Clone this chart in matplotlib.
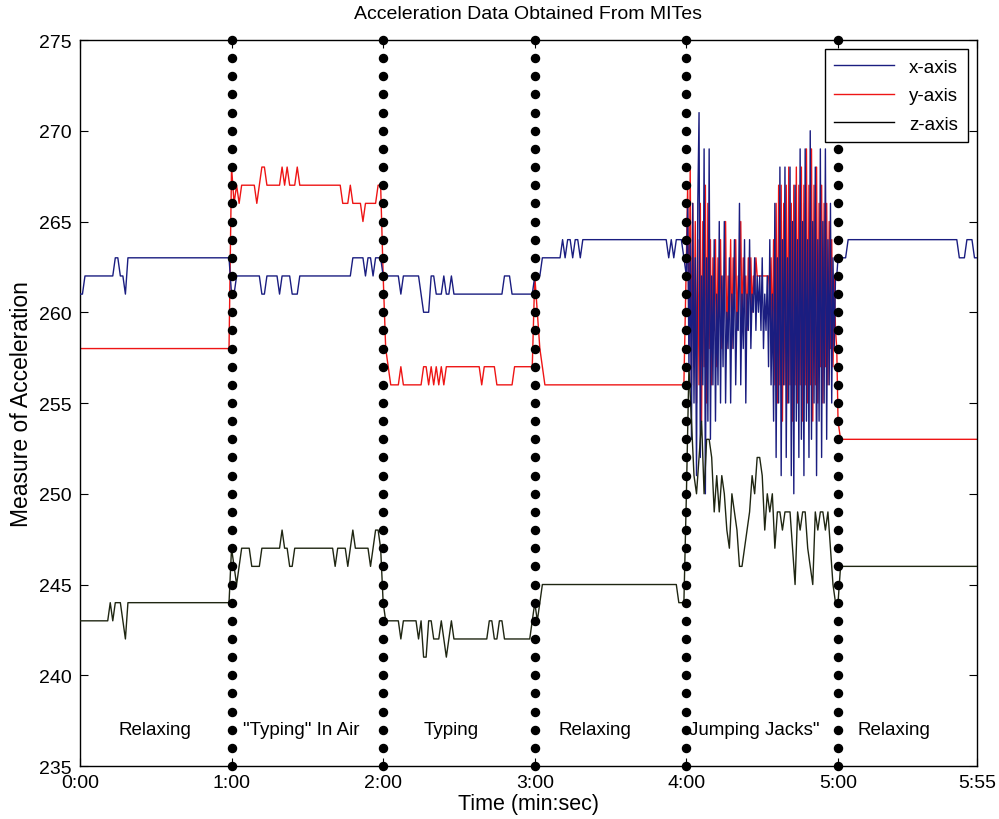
import numpy as np
import matplotlib
matplotlib.use("Agg")
import matplotlib.pyplot as plt

# MITes acceleration, one sample per second in the quiet stretches (0:00 .. 5:55)
# quiet stretches are stored as (level, run length in samples)

# x-axis, 0:00-3:59
x_levels = [261, 262, 263, 262, 261, 263,
            261, 262, 261, 262, 261, 262, 261, 262, 263, 262, 263, 262, 263,
            262, 261, 262, 261, 260, 262, 261, 262, 261, 262, 261, 262, 261,
            262, 263, 264, 263, 264, 263, 264, 263, 264, 263, 264, 263, 264, 263]
x_runs = [2, 12, 2, 2, 1, 41,
          2, 10, 2, 5, 1, 4, 3, 21, 5, 1, 2, 1, 3,
          7, 1, 7, 1, 3, 2, 3, 1, 2, 1, 20, 3, 9,
          3, 8, 1, 1, 2, 1, 2, 1, 34, 1, 1, 1, 3, 1]
# x-axis during jumping jacks, 4:00-4:59 (two samples a second)
x_jacks = [262, 266, 257, 264, 253, 266, 255, 263, 251, 266,
           271, 252, 262, 256, 269, 250, 263, 254, 269, 253,
           262, 256, 264, 254, 261, 256, 265, 255, 262, 257,
           265, 255, 260, 258, 263, 255, 261, 258, 264, 256,
           260, 259, 266, 256, 261, 258, 264, 255, 261, 259,
           264, 258, 261, 260, 263, 259, 262, 260, 262, 259,
           263, 258, 261, 259, 262, 257, 264, 256, 261, 254,
           266, 252, 263, 255, 268, 251, 264, 256, 268, 252,
           263, 255, 268, 251, 265, 250, 267, 254, 264, 252,
           269, 253, 265, 251, 269, 254, 264, 252, 270, 253,
           265, 255, 268, 251, 264, 254, 269, 252, 265, 255,
           269, 253, 264, 256, 266, 255, 263, 258, 262, 262]
# x-axis, 5:00-5:55
x_tail_levels = [263, 264, 263, 264, 263]
x_tail_runs = [4, 44, 3, 3, 2]

y_levels = [258,
            268, 266, 267, 266, 267, 266, 267, 268, 267, 268, 267, 268, 267, 268,
            267, 266, 267, 266, 265, 266, 267,
            262, 258, 257, 256, 257, 256, 257, 256, 257, 256, 257, 256, 257, 256,
            257, 256, 257, 256, 257,
            262, 260, 258, 257, 256]
y_runs = [60,
          1, 1, 1, 1, 6, 1, 1, 2, 6, 1, 1, 1, 3, 1,
          17, 3, 1, 4, 1, 5, 2,
          1, 1, 1, 4, 1, 8, 2, 1, 1, 1, 1, 1, 1, 1,
          14, 1, 5, 7, 8,
          1, 1, 1, 1, 56]
y_jacks = [263, 267, 258, 268, 256, 266, 257, 265, 255, 264,
           256, 266, 254, 265, 257, 267, 255, 266, 258, 264,
           256, 263, 259, 264, 257, 263, 260, 264, 258, 262,
           261, 265, 258, 262, 260, 264, 258, 263, 261, 264,
           259, 262, 262, 265, 259, 263, 261, 262, 259, 263,
           261, 263, 260, 262, 261, 263, 262, 262, 262, 262,
           262, 262, 262, 262, 262, 262, 261, 263, 258, 264,
           256, 266, 255, 267, 256, 267, 254, 266, 256, 267,
           255, 268, 256, 266, 254, 267, 256, 268, 255, 267,
           256, 268, 254, 267, 256, 269, 255, 267, 256, 269,
           254, 267, 256, 268, 255, 266, 257, 267, 255, 266,
           257, 266, 256, 265, 258, 264, 257, 262, 259, 258]
y_tail_levels = [254, 253]
y_tail_runs = [1, 55]

z_levels = [243, 244, 243, 244, 243, 242, 244,
            247, 246, 245, 246, 247, 246, 247, 248, 247, 246, 247, 246, 247,
            246, 247, 248, 247, 246, 247, 248, 247,
            244, 243, 242, 243, 242, 243, 241, 243, 242, 243, 242, 241, 242,
            243, 242, 243, 242, 243, 242, 243,
            244, 243, 244, 245, 244]
z_runs = [12, 1, 1, 3, 1, 1, 41,
          1, 1, 1, 1, 4, 4, 8, 1, 2, 2, 16, 1, 4,
          1, 1, 1, 6, 1, 1, 2, 1,
          1, 6, 1, 6, 1, 1, 2, 2, 3, 1, 1, 1, 1,
          1, 14, 2, 2, 2, 11, 1,
          1, 1, 1, 54, 3]
# z-axis during jumping jacks, one sample a second
z_jacks = [250, 257, 254, 251, 250, 252, 254, 250, 253, 253,
           252, 249, 251, 249, 251, 250, 248, 247, 250, 249,
           248, 246, 246, 247, 248, 249, 251, 250, 252, 252,
           251, 248, 250, 249, 250, 247, 249, 249, 248, 249,
           249, 249, 247, 245, 249, 248, 249, 249, 247, 246,
           245, 249, 248, 249, 249, 248, 249, 247, 245, 244]
z_tail_levels = [244, 246]
z_tail_runs = [1, 55]

activities = ['Relaxing', '"Typing" In Air', 'Typing', 'Relaxing',
              'Jumping Jacks"', 'Relaxing']
boundaries = [60, 120, 180, 240, 300]          # seconds
tick_secs = [0, 60, 120, 180, 240, 300, 355]
tick_labels = ['0:00', '1:00', '2:00', '3:00', '4:00', '5:00', '5:55']


def build(levels, runs, jacks, tail_levels, tail_runs):
    quiet = np.repeat(levels, runs)
    tail = np.repeat(tail_levels, tail_runs)
    t_quiet = np.arange(len(quiet))
    t_jacks = len(quiet) + np.arange(len(jacks)) * (60 / len(jacks))
    t_tail = len(quiet) + 60 + np.arange(len(tail))
    t = np.concatenate([t_quiet, t_jacks, t_tail])
    return t, np.concatenate([quiet, jacks, tail])


tx, x_acc = build(x_levels, x_runs, x_jacks, x_tail_levels, x_tail_runs)
ty, y_acc = build(y_levels, y_runs, y_jacks, y_tail_levels, y_tail_runs)
tz, z_acc = build(z_levels, z_runs, z_jacks, z_tail_levels, z_tail_runs)

plt.rcParams['font.family'] = ['Liberation Sans', 'DejaVu Sans']

fig = plt.figure(figsize=(9.99, 8.20), dpi=100)
ax = fig.add_axes([0.080, 0.0646, 0.898, 0.8854])

hy, = ax.plot(ty, y_acc, color='#ee1515', lw=1.0, zorder=2)
hx, = ax.plot(tx, x_acc, color='#1a1d80', lw=1.0, zorder=3)
hz, = ax.plot(tz, z_acc, color='#1f2612', lw=1.0, zorder=4)

ymin, ymax = 235, 275
levels = np.arange(ymin, ymax + 1)
for b in boundaries:
    ax.plot(np.full(len(levels), b), levels, 'o', color='black',
            markersize=5.8, zorder=5, clip_on=False)

# activity names along the bottom
label_x = [29.7, 87.4, 147, 203.8, 267, 322.3]
for name, lx in zip(activities, label_x):
    ax.text(lx, 237.0, name, ha='center', va='center', fontsize=13.5)

ax.set_xlim(0, 355)
ax.set_ylim(ymin, ymax)
ax.set_xticks(tick_secs)
ax.set_xticklabels(tick_labels)
ax.set_yticks(np.arange(ymin, ymax + 1, 5))
ax.tick_params(direction='in', top=True, right=True, length=6,
               labelsize=14, pad=6)
for sp in ax.spines.values():
    sp.set_linewidth(1.0)

ax.set_title('Acceleration Data Obtained From MITes', fontsize=14, pad=16)
ax.set_xlabel('Time (min:sec)', fontsize=15.5, labelpad=1)
ax.set_ylabel('Measure of Acceleration', fontsize=16.5, labelpad=4)

leg = ax.legend([hx, hy, hz], ['x-axis', 'y-axis', 'z-axis'],
                loc='upper right', fontsize=13.5, handlelength=3.2,
                fancybox=False, framealpha=1, edgecolor='black',
                borderaxespad=0.5, labelspacing=0.6, borderpad=0.5)
leg.get_frame().set_linewidth(1.0)
leg.get_lines()[2].set_color('black')
leg.set_zorder(6)

fig.savefig('out.png', dpi=100)
